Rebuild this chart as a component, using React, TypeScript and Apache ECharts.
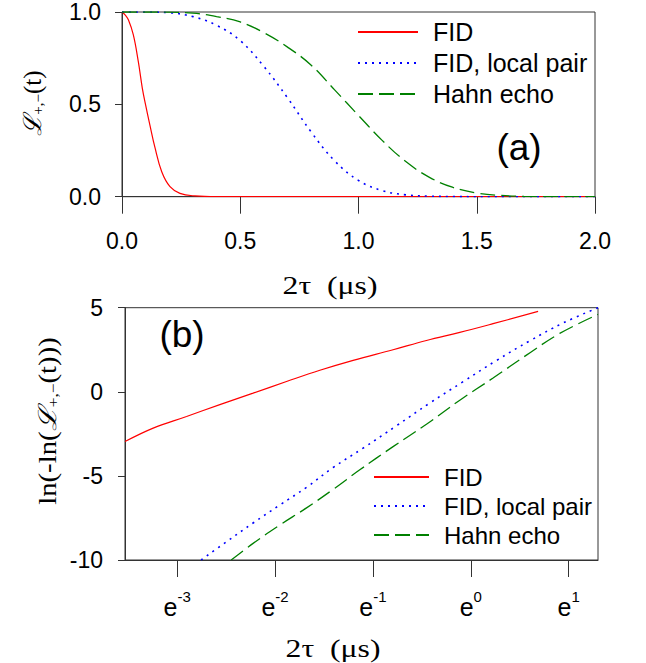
import React, { useEffect, useRef } from 'react';
import * as echarts from 'echarts';

const seriesNames = ['FID', 'FID, local pair', 'Hahn echo'];
const seriesColors = ['#ff0000', '#0000ff', '#008000'];

// Panel (a): coherence vs 2tau (us)
const fidT = [0, 0.013, 0.027, 0.048, 0.069, 0.086, 0.1, 0.118, 0.139, 0.168, 0.203, 0.245, 0.308, 0.4, 0.6, 1.0, 1.5, 2.0];
const fidL = [1.0, 0.985, 0.958, 0.876, 0.731, 0.587, 0.496, 0.388, 0.268, 0.135, 0.054, 0.018, 0.004, 0.0, 0.0, 0.0, 0.0, 0.0];

const pairT = [0, 0.1, 0.2, 0.3, 0.4, 0.5, 0.6, 0.7, 0.8, 0.9, 1.0, 1.1, 1.2, 1.3, 1.4, 1.5, 2.0];
const pairL = [1.0, 1.0, 0.996, 0.975, 0.928, 0.845, 0.705, 0.535, 0.35, 0.193, 0.088, 0.033, 0.01, 0.003, 0.001, 0.0, 0.0];

const hahnT = [0, 0.1, 0.2, 0.3, 0.4, 0.5, 0.6, 0.7, 0.8, 0.9, 1.0, 1.1, 1.2, 1.3, 1.4, 1.5, 1.6, 1.7, 1.8, 2.0];
const hahnL = [1.0, 1.0, 0.999, 0.994, 0.975, 0.946, 0.888, 0.81, 0.712, 0.577, 0.44, 0.305, 0.19, 0.105, 0.05, 0.02, 0.007, 0.002, 0.0, 0.0];

// Panel (b): ln(-ln L) vs ln(2tau)
const fidLn = [-3.533, -3.245, -2.904, -2.564, -2.224, -1.883, -1.542, -1.202, -0.794, -0.453, -0.112, 0.228, 0.688];
const fidLnV = [-2.96, -2.16, -1.47, -0.76, -0.08, 0.61, 1.28, 1.87, 2.5, 3.05, 3.53, 4.05, 4.78];

const pairLn = [-2.755, -2.495, -2.224, -1.951, -1.678, -1.406, -1.1, -0.759, -0.419, -0.076, 0.262, 0.603, 0.943, 1.3];
const pairLnV = [-10.0, -8.91, -7.8, -6.73, -5.68, -4.5, -3.35, -2.02, -0.67, 0.61, 1.86, 3.03, 4.09, 5.0];

const hahnLn = [-2.448, -2.224, -1.951, -1.678, -1.406, -1.134, -0.794, -0.453, -0.112, 0.228, 0.569, 0.909, 1.3];
const hahnLnV = [-10.0, -9.01, -7.92, -6.9, -5.8, -4.64, -3.26, -1.93, -0.5, 0.82, 2.18, 3.47, 4.6];

const topXTicks = [0, 0.5, 1, 1.5, 2];
const topYTicks = [0, 0.5, 1];
const botXTicks = [-3, -2, -1, 0, 1];
const botYTicks = [-10, -5, 0, 5];

const zip = (a: number[], b: number[]) => a.map((v, i) => [v, b[i]]);

const SANS = 'Liberation Sans, Arial, Helvetica, sans-serif';
const SERIF = 'Liberation Serif, Times New Roman, DejaVu Serif, serif';
const AX = '#333';

export default function App() {
  const ref = useRef<HTMLDivElement>(null);
  useEffect(() => {
    const chart = echarts.init(ref.current!, null, { renderer: 'svg' });
    const lineStyles: any[] = [
      { color: seriesColors[0], width: 1.2, type: 'solid' },
      { color: seriesColors[1], width: 1.6, type: [2, 5] },
      { color: seriesColors[2], width: 1.3, type: [15, 6] },
    ];
    const topData = [zip(fidT, fidL), zip(pairT, pairL), zip(hahnT, hahnL)];
    const botData = [zip(fidLn, fidLnV), zip(pairLn, pairLnV), zip(hahnLn, hahnLnV)];
    const series: any[] = [];
    for (let i = 0; i < 3; i++) {
      series.push({
        type: 'line', name: seriesNames[i], xAxisIndex: 0, yAxisIndex: 0,
        data: topData[i], symbol: 'none', smooth: 0.4,
        color: seriesColors[i], lineStyle: lineStyles[i], z: 3 + i,
      });
    }
    for (let i = 0; i < 3; i++) {
      series.push({
        type: 'line', name: seriesNames[i], xAxisIndex: 1, yAxisIndex: 1,
        data: botData[i], symbol: 'none', smooth: 0.4,
        color: seriesColors[i], lineStyle: lineStyles[i], z: 3 + i,
      });
    }
    const labelStyle = { fontSize: 23, fontFamily: SANS, color: '#000' };
    const legendBase = {
      data: seriesNames, orient: 'vertical', itemHeight: 14, padding: 0, selectedMode: false,
      itemStyle: { opacity: 0, borderWidth: 0 },
    };
    const legendText = (size: number) => ({ fontSize: size, fontFamily: SANS, color: '#000', lineHeight: 26, padding: [0, 0, 0, 10] });
    const titleRich = {
      a: { fontSize: 25, fontFamily: SERIF, fontStyle: 'italic', lineHeight: 30, verticalAlign: 'bottom' },
      b: { fontSize: 15, fontFamily: SERIF, lineHeight: 16, verticalAlign: 'bottom' },
      c: { fontSize: 25, fontFamily: SERIF, lineHeight: 30, verticalAlign: 'bottom' },
    };
    const option: any = {
      animation: false,
      backgroundColor: '#fff',
      grid: [
        { left: 122, top: 12, width: 473, height: 184.7, show: true, borderColor: AX, borderWidth: 1, backgroundColor: 'transparent' },
        { left: 125, top: 307.7, width: 473, height: 252.3, show: true, borderColor: AX, borderWidth: 1, backgroundColor: 'transparent' },
      ],
      xAxis: [
        {
          gridIndex: 0, type: 'value', min: 0, max: 2, interval: 0.5,
          axisLine: { show: true, onZero: false, lineStyle: { color: AX } },
          axisTick: { show: true, length: 17, lineStyle: { color: AX } },
          axisLabel: { ...labelStyle, margin: 33, formatter: (v: number) => v.toFixed(1),
            customValues: topXTicks },
          splitLine: { show: false },
        },
        {
          gridIndex: 1, type: 'value', min: -3.533, max: 1.3,
          axisLine: { show: true, onZero: false, lineStyle: { color: AX } },
          axisTick: { show: true, length: 17, lineStyle: { color: AX }, customValues: botXTicks },
          axisLabel: {
            customValues: botXTicks, margin: 29,
            formatter: (v: number) => `{e|e}{s|${Math.round(v)}}`,
            rich: {
              e: { fontSize: 25, fontFamily: SANS, color: '#000', lineHeight: 30, verticalAlign: 'bottom' },
              s: { fontSize: 15, fontFamily: SANS, color: '#000', lineHeight: 18, verticalAlign: 'top' },
            },
          },
          splitLine: { show: false },
        },
      ],
      yAxis: [
        {
          gridIndex: 0, type: 'value', min: 0, max: 1, interval: 0.5,
          axisLine: { show: true, onZero: false, lineStyle: { color: AX } },
          axisTick: { show: true, length: 7, lineStyle: { color: AX } },
          axisLabel: { ...labelStyle, margin: 21, formatter: (v: number) => v.toFixed(1), customValues: topYTicks },
          splitLine: { show: false },
        },
        {
          gridIndex: 1, type: 'value', min: -10, max: 5, interval: 5,
          axisLine: { show: true, onZero: false, lineStyle: { color: AX } },
          axisTick: { show: true, length: 7, lineStyle: { color: AX } },
          axisLabel: { ...labelStyle, margin: 22, customValues: botYTicks },
          splitLine: { show: false },
        },
      ],
      legend: [
        { ...legendBase, left: 357, top: 19, itemWidth: 60, itemGap: 5, textStyle: legendText(25) },
        { ...legendBase, left: 373, top: 464, itemWidth: 55, itemGap: 3, textStyle: legendText(24) },
      ],
      graphic: [
        { type: 'text', x: 519, y: 147, style: { text: '(a)', font: `37px ${SANS}`, fill: '#000', align: 'center', verticalAlign: 'middle' } },
        { type: 'text', x: 182, y: 334, style: { text: '(b)', font: `37px ${SANS}`, fill: '#000', align: 'center', verticalAlign: 'middle' } },
        { type: 'text', x: 330, y: 285, scaleX: 1.22, style: { text: '2τ  (μs)', font: `26px ${SERIF}`, fill: '#000', align: 'center', verticalAlign: 'middle' } },
        { type: 'text', x: 333, y: 648, scaleX: 1.22, style: { text: '2τ  (μs)', font: `26px ${SERIF}`, fill: '#000', align: 'center', verticalAlign: 'middle' } },
        {
          type: 'text', x: 30, y: 103, rotation: Math.PI / 2,
          style: { text: '{a|ℒ}{b|+,−}{c|(t)}', align: 'center', verticalAlign: 'middle', fill: '#000', rich: titleRich },
        },
        {
          type: 'text', x: 45, y: 421, rotation: Math.PI / 2, scaleX: 1.15,
          style: { text: '{c|ln(-ln(}{a|ℒ}{b|+,−}{c|(t)))}', align: 'center', verticalAlign: 'middle', fill: '#000', rich: titleRich },
        },
      ],
      series,
    };
    chart.setOption(option);
    return () => chart.dispose();
  }, []);
  return <div ref={ref} style={{ position: 'absolute', left: 0, top: 0, width: 646, height: 663 }} />;
}
